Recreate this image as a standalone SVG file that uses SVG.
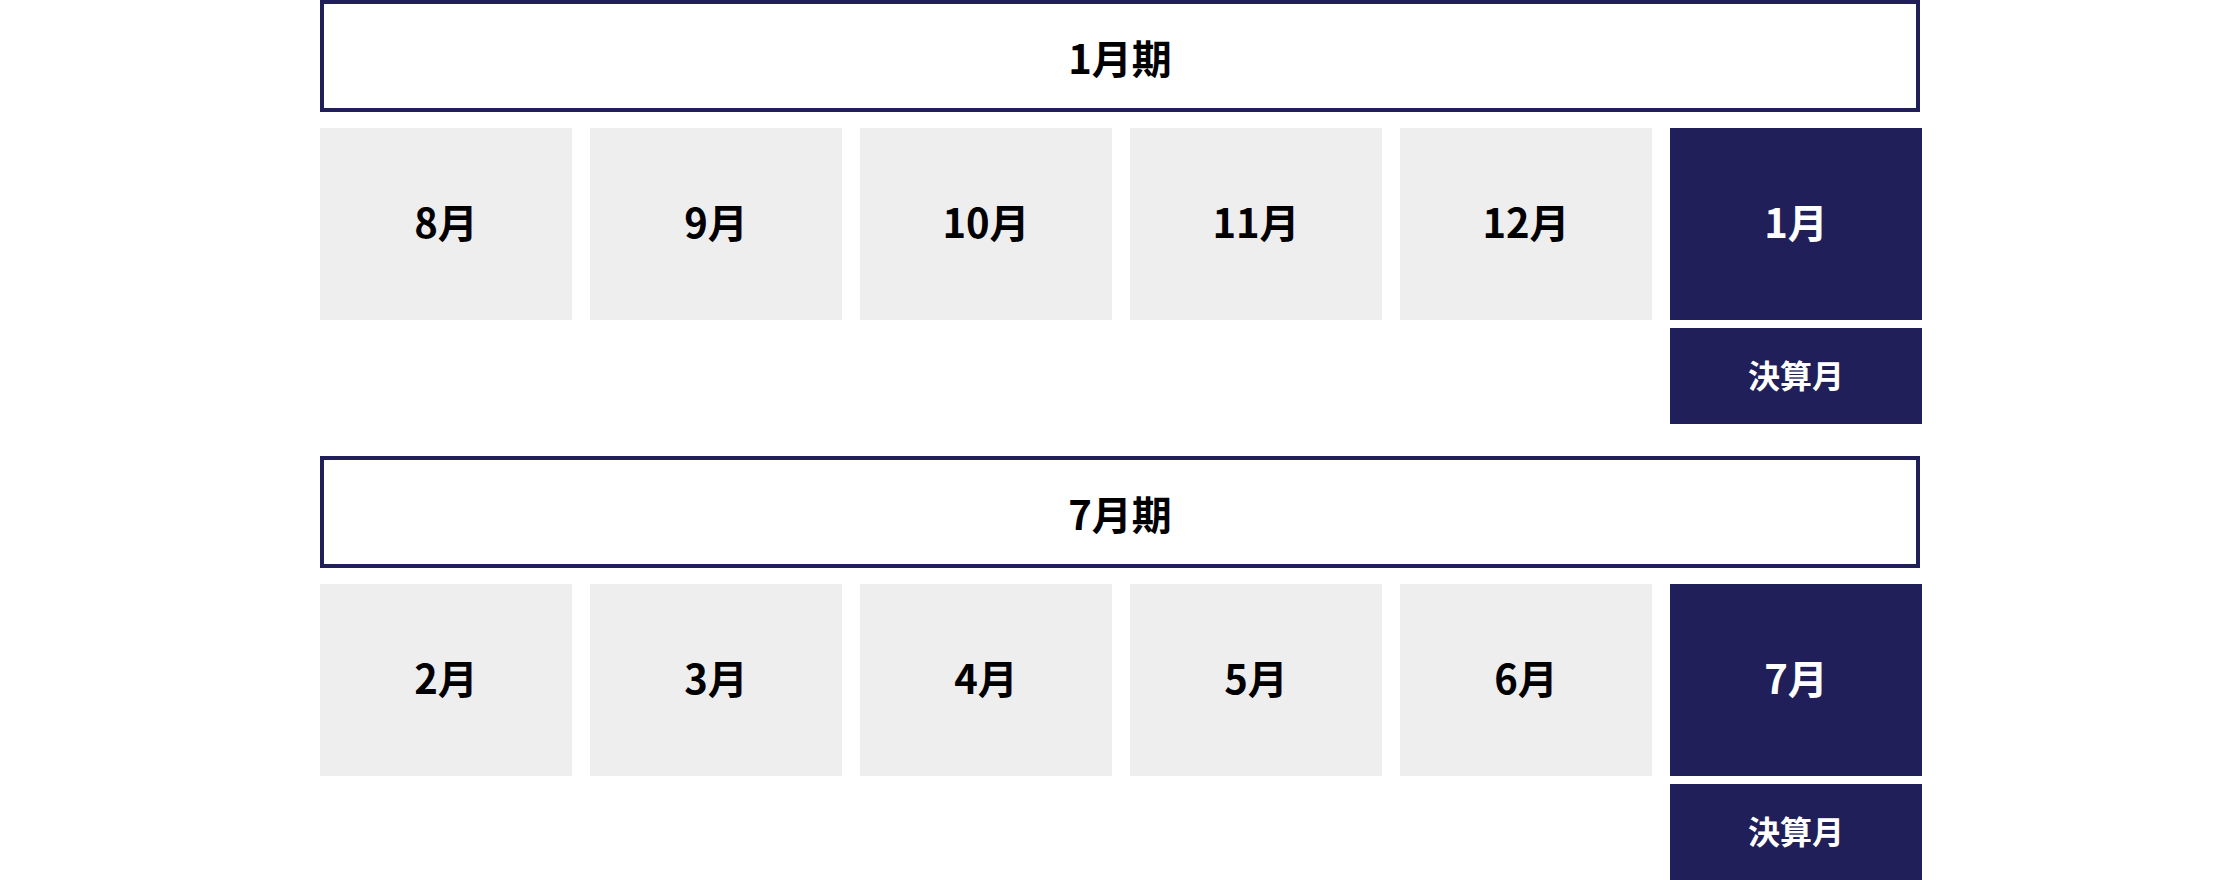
<svg xmlns="http://www.w3.org/2000/svg" width="2240" height="880" viewBox="0 0 2240 880">
<style>
text{font-family:"Noto Sans CJK JP","Noto Sans CJK SC",sans-serif;font-weight:700;text-anchor:middle}
.frame{fill:#fff;stroke:#201f5a;stroke-width:4}
.m{fill:#eeeeee}
.n{fill:#201f5a}
.t{font-size:40px;fill:#000}
.w{font-size:40px;fill:#fff}
.s{font-size:32px;fill:#fff}
</style>
<rect width="2240" height="880" fill="#fff"/>
<g id="period-jan">
<rect class="frame" x="322" y="2" width="1596" height="108"/>
<text class="t" x="1120" y="74">1月期</text>
</g>
<g id="m8"><rect class="m" x="320" y="128" width="252" height="192"/><text class="t" x="446" y="238">8月</text></g>
<g id="m9"><rect class="m" x="590" y="128" width="252" height="192"/><text class="t" x="716" y="238">9月</text></g>
<g id="m10"><rect class="m" x="860" y="128" width="252" height="192"/><text class="t" x="986" y="238">10月</text></g>
<g id="m11"><rect class="m" x="1130" y="128" width="252" height="192"/><text class="t" x="1256" y="238">11月</text></g>
<g id="m12"><rect class="m" x="1400" y="128" width="252" height="192"/><text class="t" x="1526" y="238">12月</text></g>
<g id="m1"><rect class="n" x="1670" y="128" width="252" height="192"/><text class="w" x="1796" y="238">1月</text></g>
<g id="settle-jan"><rect class="n" x="1670" y="328" width="252" height="96"/><text class="s" x="1796" y="388">決算月</text></g>

<g id="period-jul">
<rect class="frame" x="322" y="458" width="1596" height="108"/>
<text class="t" x="1120" y="530">7月期</text>
</g>
<g id="m2"><rect class="m" x="320" y="584" width="252" height="192"/><text class="t" x="446" y="694">2月</text></g>
<g id="m3"><rect class="m" x="590" y="584" width="252" height="192"/><text class="t" x="716" y="694">3月</text></g>
<g id="m4"><rect class="m" x="860" y="584" width="252" height="192"/><text class="t" x="986" y="694">4月</text></g>
<g id="m5"><rect class="m" x="1130" y="584" width="252" height="192"/><text class="t" x="1256" y="694">5月</text></g>
<g id="m6"><rect class="m" x="1400" y="584" width="252" height="192"/><text class="t" x="1526" y="694">6月</text></g>
<g id="m7"><rect class="n" x="1670" y="584" width="252" height="192"/><text class="w" x="1796" y="694">7月</text></g>
<g id="settle-jul"><rect class="n" x="1670" y="784" width="252" height="96"/><text class="s" x="1796" y="844">決算月</text></g>
<g id="connectors"/>
</svg>
